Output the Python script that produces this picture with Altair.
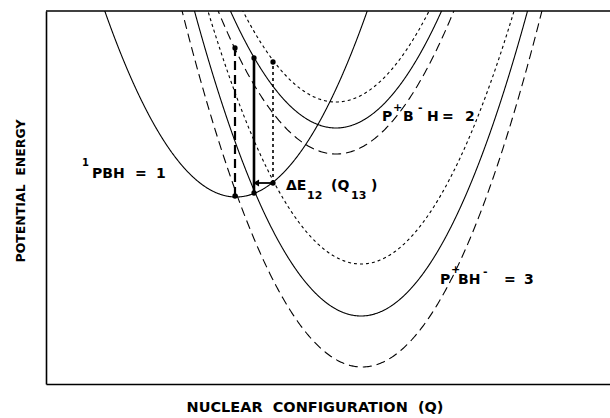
import numpy as np
import pandas as pd
import altair as alt

# ---- potential-energy parabolas (Q = nuclear configuration, E = energy)
curve_names  = ["1_solid", "2_dotted", "2_solid", "2_dashed", "3_dotted", "3_solid", "3_dashed"]
curve_styles = ["solid", "dotted", "solid", "dashed", "dotted", "solid", "dashed"]
curve_center = [190, 290, 290, 290, 315, 315, 316]     # Q of the minimum
curve_min    = [187, 282, 256, 230, 120, 68, 17]        # E at the minimum
curve_k      = [0.0108, 0.0105, 0.0105, 0.0103, 0.0108, 0.011, 0.011]

# ---- vertical transitions (dashed, solid, dotted)
trans_q      = [189, 208, 227]
trans_bottom = [188, 191, 201]
trans_top    = [336, 326, 322]
trans_style  = ["dashed", "solid", "dotted"]

# ---- Delta E arrow
arrow_q_from = [227]
arrow_q_to   = [210]
arrow_e      = [201]

# ---- text pieces
lab_text = ["1", "PBH", "=", "1",
            "P", "+", "B", "-", "H", "=", "2",
            "P", "+", "BH", "-", "=", "3",
            "\u0394E", "12", "(Q", "13", ")"]
lab_q = [36, 46, 89, 110,
         336, 347, 357, 372, 381, 396, 419,
         394, 405, 412, 437, 458, 478,
         240, 261, 285, 305, 325]
lab_e = [221, 210, 210, 210,
         267, 276, 267, 276, 267, 267, 267,
         104, 114, 104, 112, 104, 104,
         198, 188, 198, 188, 198]
lab_size = [10, 14, 14, 14,
            14, 11, 14, 11, 14, 14, 14,
            14, 11, 14, 11, 14, 14,
            14, 11, 14, 11, 14]

Q = np.arange(0, 565, 1.0)
rows = []
for name, st, c, m, k in zip(curve_names, curve_styles, curve_center, curve_min, curve_k):
    E = m + k * (Q - c) ** 2
    keep = E < 420
    for q, e in zip(Q[keep], E[keep]):
        rows.append({"Q": q, "E": e, "curve": name, "style": st})
curves = pd.DataFrame(rows)

xs = alt.Scale(domain=[0, 564], nice=False, zero=False)
ys = alt.Scale(domain=[0, 373], nice=False, zero=False)
ax = alt.Axis(labels=False, ticks=False, title=None, grid=False,
              domainColor="black", domainWidth=1.6)

dash = {"solid": [1, 0], "dotted": [3, 3], "dashed": [9, 5]}
layers = []
for st in ["solid", "dotted", "dashed"]:
    d = curves[curves["style"] == st]
    layers.append(
        alt.Chart(d).mark_line(clip=True, color="black", strokeWidth=1.1, strokeDash=dash[st])
        .encode(x=alt.X("Q:Q", scale=xs, axis=ax),
                y=alt.Y("E:Q", scale=ys, axis=ax),
                detail="curve:N", order="Q:Q")
    )

tr = pd.DataFrame({"Q": trans_q, "Eb": trans_bottom, "Et": trans_top, "style": trans_style})
tw = {"dashed": 2.2, "solid": 2.6, "dotted": 1.6}
for st in trans_style:
    d = tr[tr["style"] == st]
    layers.append(
        alt.Chart(d).mark_rule(color="black", strokeWidth=tw[st], strokeDash=dash[st])
        .encode(x=alt.X("Q:Q", scale=xs), y=alt.Y("Eb:Q", scale=ys), y2="Et:Q")
    )
dots = pd.DataFrame({"Q": trans_q + trans_q, "E": trans_top + trans_bottom})
layers.append(alt.Chart(dots).mark_circle(color="black", size=28, opacity=1)
              .encode(x=alt.X("Q:Q", scale=xs), y=alt.Y("E:Q", scale=ys)))

ar = pd.DataFrame({"Q1": arrow_q_from, "Q2": arrow_q_to, "E": arrow_e})
layers.append(alt.Chart(ar).mark_rule(color="black", strokeWidth=1.8)
              .encode(x=alt.X("Q1:Q", scale=xs), x2="Q2:Q", y=alt.Y("E:Q", scale=ys)))
layers.append(alt.Chart(ar).mark_point(shape="triangle-left", filled=True, color="black",
                                       size=50, opacity=1)
              .encode(x=alt.X("Q2:Q", scale=xs), y=alt.Y("E:Q", scale=ys)))

# top frame line
layers.append(alt.Chart(pd.DataFrame({"E": [373]})).mark_rule(color="black", strokeWidth=1.6)
              .encode(y=alt.Y("E:Q", scale=ys)))

labs = pd.DataFrame({"Q": lab_q, "E": lab_e, "t": lab_text, "fs": lab_size})
layers.append(alt.Chart(labs).mark_text(align="left", baseline="middle", font="DejaVu Sans",
                                        fontWeight="bold", color="black")
              .encode(x=alt.X("Q:Q", scale=xs), y=alt.Y("E:Q", scale=ys), text="t:N",
                      size=alt.Size("fs:Q", scale=None, legend=None)))

nb = "\u00a0"
titles = pd.DataFrame({"Q": [269, -25], "E": [-24, 193],
                       "t": [f"NUCLEAR{nb}{nb}CONFIGURATION{nb}{nb}(Q)", f"POTENTIAL{nb}{nb}ENERGY"]})
layers.append(alt.Chart(titles.iloc[[0]]).mark_text(align="center", baseline="middle",
                                                    font="DejaVu Sans", fontWeight="bold",
                                                    fontSize=14.5, color="black")
              .encode(x=alt.X("Q:Q", scale=xs), y=alt.Y("E:Q", scale=ys), text="t:N"))
layers.append(alt.Chart(titles.iloc[[1]]).mark_text(align="center", baseline="middle",
                                                    font="DejaVu Sans", fontWeight="bold",
                                                    fontSize=12.5, angle=270, color="black")
              .encode(x=alt.X("Q:Q", scale=xs), y=alt.Y("E:Q", scale=ys), text="t:N"))

chart = alt.layer(*layers).properties(
    width=564, height=373,
    autosize=alt.AutoSizeParams(type="none"),
    padding={"left": 46, "top": 11, "right": 0, "bottom": 34},
    background="white",
).configure_view(stroke=None)

chart.save("out.html", embed_options={"renderer": "svg", "actions": False})
